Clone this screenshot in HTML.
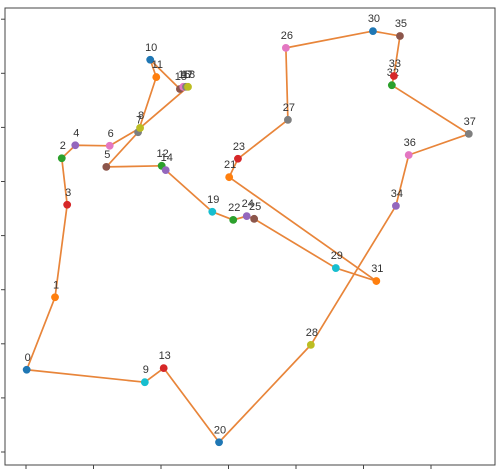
<!DOCTYPE html>
<html><head><meta charset="utf-8"><style>
html,body{margin:0;padding:0;background:#fff;width:500px;height:471px;overflow:hidden}
svg text{font-family:"Liberation Sans","DejaVu Sans",sans-serif;font-size:11px;fill:#333}
</style></head><body>
<svg id="chart" width="500" height="471" viewBox="0 0 500 471" xmlns="http://www.w3.org/2000/svg">
<rect x="5" y="8" width="490" height="457" fill="#fff" stroke="#444" stroke-width="1"/>
<g id="ticks"></g>
<polyline id="route" fill="none" stroke="#e8853a" stroke-width="1.7" stroke-linejoin="round"/>
<g id="pts"></g>
</svg>
<script>
const xs=[0.01,0.43,0.53,0.61,0.73,1.19,1.24,1.66,1.69,1.76,1.84,1.93,2.01,2.04,2.07,2.28,2.33,2.37,2.40,2.76,2.86,3.01,3.07,3.14,3.27,3.38,3.85,3.88,4.22,4.59,5.14,5.19,5.42,5.45,5.48,5.54,5.67,6.56];
const ys=[1.52,2.86,5.43,4.57,5.67,5.27,5.66,5.91,5.99,1.29,7.25,6.93,5.29,1.55,5.21,6.71,6.75,6.75,6.75,4.44,0.18,5.08,4.29,5.42,4.36,4.31,7.47,6.14,1.98,3.40,7.78,3.16,6.78,6.95,4.55,7.69,5.49,5.88];
const tour=[0,1,3,2,4,6,8,18,17,16,15,10,11,7,5,12,14,19,22,24,25,29,31,21,23,27,26,30,35,33,32,37,36,34,28,20,13,9,0];
const xTicks=[0,1,2,3,4,5,6];
const yTicks=[0,1,2,3,4,5,6,7,8];
const colors=["#1f77b4","#ff7f0e","#2ca02c","#d62728","#9467bd","#8c564b","#e377c2","#7f7f7f","#bcbd22","#17becf"];
const X=v=>26+v*67.5, Y=v=>452-v*54.1;
const NS="http://www.w3.org/2000/svg";
const tg=document.getElementById('ticks');
xTicks.forEach(t=>{const l=document.createElementNS(NS,'line');
l.setAttribute('x1',X(t));l.setAttribute('x2',X(t));l.setAttribute('y1',465);l.setAttribute('y2',469);l.setAttribute('stroke','#444');


tg.appendChild(l);});
yTicks.forEach(t=>{const l=document.createElementNS(NS,'line');
l.setAttribute('y1',Y(t));l.setAttribute('y2',Y(t));l.setAttribute('x1',1);l.setAttribute('x2',5);l.setAttribute('stroke','#444');


tg.appendChild(l);});
document.getElementById('route').setAttribute('points',tour.map(i=>X(xs[i])+','+Y(ys[i])).join(' '));
const pg=document.getElementById('pts');
xs.forEach((x,i)=>{const c=document.createElementNS(NS,'circle');
c.setAttribute('cx',X(x));c.setAttribute('cy',Y(ys[i]));c.setAttribute('r',3.9);c.setAttribute('fill',colors[i%10]);


pg.appendChild(c);
const t=document.createElementNS(NS,'text');
t.setAttribute('x',X(x)+1);t.setAttribute('y',Y(ys[i])-9);t.setAttribute('text-anchor','middle');t.textContent=i;


pg.appendChild(t);});
</script>
</body></html>
